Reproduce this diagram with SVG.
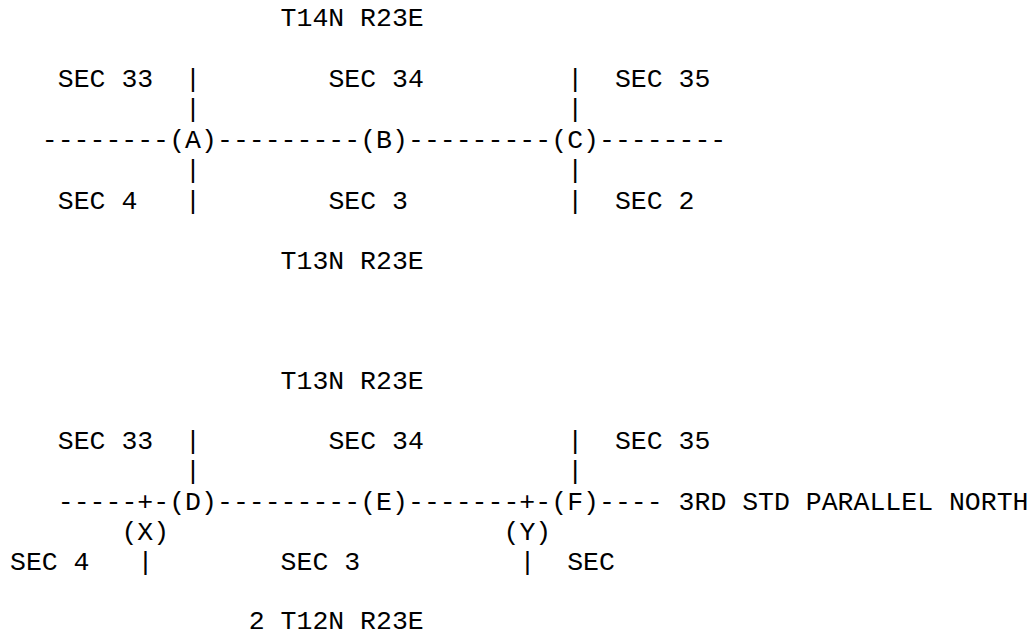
<svg xmlns="http://www.w3.org/2000/svg" width="1034" height="637" viewBox="0 0 1034 637">
<style>
text{font-family:"Liberation Mono","Courier New",monospace;font-size:26.5px;fill:#000;white-space:pre}
</style>
<rect width="1034" height="637" fill="#fff"/>
<g id="labels">
<text x="280.6" y="26">T14N R23E</text>
<text x="57.8" y="87">SEC 33</text>
<text x="328.4" y="87">SEC 34</text>
<text x="614.9" y="87">SEC 35</text>
<text x="57.8" y="209">SEC 4</text>
<text x="328.4" y="209">SEC 3</text>
<text x="614.9" y="209">SEC 2</text>
<text x="280.6" y="269">T13N R23E</text>
<text x="280.6" y="389">T13N R23E</text>
<text x="57.8" y="449">SEC 33</text>
<text x="328.4" y="449">SEC 34</text>
<text x="614.9" y="449">SEC 35</text>
<text x="678.6" y="510">3RD STD PARALLEL NORTH</text>
<text x="10" y="570">SEC 4</text>
<text x="280.6" y="570">SEC 3</text>
<text x="567.2" y="570">SEC</text>
<text x="248.8" y="629">2 T12N R23E</text>
</g>
<g id="connectors">
<text x="185.1" y="87">|</text><text x="567.2" y="87">|</text>
<text x="185.1" y="117">|</text><text x="567.2" y="117">|</text>
<text x="185.1" y="178">|</text><text x="567.2" y="178">|</text>
<text x="185.1" y="209">|</text><text x="567.2" y="209">|</text>
<text x="41.8" y="148">--------</text>
<text x="217" y="148">---------</text>
<text x="408" y="148">---------</text>
<text x="599" y="148">--------</text>
<text x="185.1" y="449">|</text><text x="567.2" y="449">|</text>
<text x="185.1" y="479">|</text><text x="567.2" y="479">|</text>
<text x="57.8" y="510">-----+-</text>
<text x="217" y="510">---------</text>
<text x="408" y="510">-------+-</text>
<text x="599" y="510">----</text>
<text x="137.4" y="570">|</text><text x="519.4" y="570">|</text>
</g>
<g id="node-A"><text x="169.2" y="148">(A)</text></g>
<g id="node-B"><text x="360.2" y="148">(B)</text></g>
<g id="node-C"><text x="551.3" y="148">(C)</text></g>
<g id="node-D"><text x="169.2" y="510">(D)</text></g>
<g id="node-E"><text x="360.2" y="510">(E)</text></g>
<g id="node-F"><text x="551.3" y="510">(F)</text></g>
<g id="node-X"><text x="121.4" y="540">(X)</text></g>
<g id="node-Y"><text x="503.5" y="540">(Y)</text></g>
</svg>
